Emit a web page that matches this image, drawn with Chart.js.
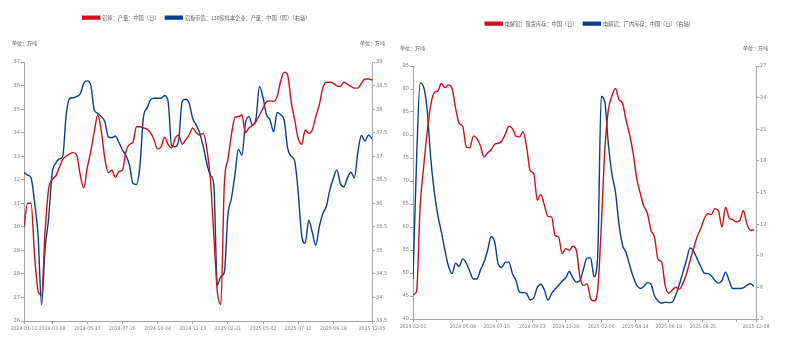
<!DOCTYPE html>
<html>
<head>
<meta charset="utf-8">
<script src="https://cdn.jsdelivr.net/npm/chart.js@4.4.1/dist/chart.umd.min.js"></script>
<style>
  html, body { margin: 0; padding: 0; background: #fff; }
  #wrap { position: relative; width: 786px; height: 345px; }
  .box { position: absolute; top: 0; width: 393px; height: 345px; }
</style>
</head>
<body>
<div id="wrap">
  <div class="box" style="left:0"><canvas id="left-chart"></canvas></div>
  <div class="box" style="left:393px"><canvas id="right-chart"></canvas></div>
</div>
<script>
// ---- left chart: 铝棒 / 铝板带箔 (weekly readings from 2024-01-12) ----
const leftStart = '2024-01-12';
const leftEnd = '2025-12-05';
const leftTicks = ['2024-01-12', '2024-03-08', '2024-05-17', '2024-07-26', '2024-10-04', '2024-12-13',
  '2025-02-21', '2025-05-02', '2025-07-11', '2025-09-19', '2025-12-05'];
const rodOutput = [30.0, 31.0, 31.0, 28.8, 27.3, 27.1, 29.8, 31.6, 32.0, 32.15,
  32.5, 32.85, 33.0, 33.1, 33.15, 33.05, 32.2, 31.65, 32.5, 33.2,
  34.05, 34.75, 34.05, 32.9, 32.3, 32.4, 32.1, 32.35, 32.4, 33.2,
  33.5, 33.6, 34.25, 34.25, 34.2, 34.15, 34.0, 33.7, 33.3, 33.4,
  33.8, 33.5, 33.35, 33.75, 33.9, 33.5, 33.7, 33.9, 34.2, 34.0,
  33.9, 33.97, 33.33, 32.06, 29.65, 27.24, 26.7, 31.85, 32.85, 33.9,
  34.64, 34.68, 34.75, 34.0, 34.2, 34.3, 34.47, 34.75, 35.03, 35.32,
  35.35, 35.32, 35.53, 36.17, 36.57, 36.45, 35.32, 34.54, 33.76, 33.5,
  34.11, 33.97, 34.11, 34.68, 35.18, 35.89, 36.14, 36.14, 36.1, 35.99,
  35.96, 36.14, 36.06, 35.96, 35.89, 35.89, 36.1, 36.28, 36.28, 36.24];
const sheetOutput = [36.66, 36.6, 36.54, 36.03, 35.32, 33.85, 35.04, 35.68, 36.63, 36.85,
  36.94, 36.99, 37.88, 38.23, 38.24, 38.27, 38.32, 38.55, 38.6, 38.51,
  37.98, 37.91, 37.84, 37.73, 37.41, 37.39, 37.43, 37.29, 37.13, 37.02,
  36.81, 36.42, 36.4, 36.81, 37.84, 38.02, 38.2, 38.23, 38.23, 38.23,
  38.29, 38.16, 37.22, 37.2, 37.34, 38.16, 38.21, 38.12, 37.8, 37.66,
  37.49, 37.2, 36.85, 36.6, 36.39, 34.26, 34.44, 34.54, 35.75, 36.1,
  36.6, 37.15, 37.02, 37.7, 37.84, 37.66, 37.8, 38.48, 38.24, 37.88,
  37.77, 37.52, 37.93, 37.88, 37.77, 37.17, 37.0, 36.9, 36.24, 35.32,
  35.15, 35.64, 35.39, 35.11, 35.5, 35.78, 35.93, 36.28, 36.53, 36.71,
  36.42, 36.35, 36.54, 36.66, 36.54, 37.1, 37.44, 37.32, 37.45, 37.37];

// ---- right chart: 电解铝 库存 (weekly readings from 2024-02-01) ----
const rightStart = '2024-02-01';
const rightEnd = '2025-12-08';
const rightTicks = ['2024-02-01', '2024-05-09', '2024-07-15', '2024-09-23', '2024-11-28', '2025-02-06',
  '2025-04-14', '2025-06-19', '2025-08-25', '2025-10-31', '2025-12-08'];
const rightTickLabels = ['2024-02-01', '2024-05-09', '2024-07-15', '2024-09-23', '2024-11-28', '2025-02-06',
  '2025-04-14', '2025-06-19', '2025-08-25', '', '2025-12-08'];
const spotStock = [45.3, 46.0, 64.3, 73.1, 80.7, 86.5, 89.2, 89.6, 91.2, 90.3,
  90.9, 90.1, 85.8, 82.5, 81.9, 77.4, 77.2, 79.8, 79.2, 77.6,
  75.2, 76.1, 76.8, 78.0, 78.2, 78.7, 80.2, 81.9, 81.4, 79.75,
  79.6, 80.7, 77.4, 72.2, 71.6, 65.8, 67.1, 64.7, 62.3, 62.2,
  58.2, 57.8, 54.2, 55.3, 54.9, 55.8, 54.9, 49.1, 47.3, 47.6,
  44.5, 43.9, 46.2, 60.0, 76.7, 85.4, 88.5, 90.1, 87.7, 86.9,
  83.2, 80.0, 76.0, 70.5, 67.3, 64.5, 63.0, 59.3, 57.8, 52.9,
  52.4, 47.3, 45.6, 46.3, 46.9, 46.5, 47.8, 49.8, 52.7, 55.3,
  57.9, 59.6, 61.8, 62.9, 62.7, 64.0, 63.5, 60.0, 64.3, 62.0,
  61.6, 61.1, 61.4, 63.6, 60.7, 59.3, 59.4];
const plantStock = [6.8, 18.0, 25.4, 25.0, 22.8, 18.2, 15.05, 12.8, 11.25, 9.5,
  8.0, 7.3, 8.3, 8.0, 8.7, 8.3, 7.5, 6.8, 6.8, 7.66,
  8.4, 9.5, 10.8, 10.3, 8.2, 7.9, 8.4, 8.4, 7.3, 6.65,
  5.55, 5.5, 5.4, 4.8, 5.0, 6.0, 6.3, 5.75, 4.8, 5.4,
  5.85, 6.2, 6.6, 6.9, 7.5, 6.9, 6.5, 6.65, 7.75, 8.8,
  8.8, 7.0, 9.0, 24.1, 23.6, 19.6, 16.8, 15.05, 12.0, 10.0,
  9.3, 8.1, 7.0, 6.2, 5.9, 6.1, 6.45, 6.3, 5.2, 4.7,
  4.5, 4.6, 4.55, 4.6, 5.3, 6.3, 7.45, 8.6, 9.75, 9.45,
  8.7, 8.0, 7.35, 7.3, 7.1, 6.65, 6.4, 6.65, 7.45, 6.65,
  5.9, 5.9, 5.9, 5.95, 6.2, 6.35, 6.1];

const RED = '#CC121B';
const BLUE = '#0B3D91';
const AXIS = '#A6A6A6';
const TICK_TEXT = '#7F7F7F';
const NUM_FONT = "'Liberation Sans Narrow', 'DejaVu Sans Condensed', 'Noto Sans CJK SC', sans-serif";
const CJK_FONT = "'Noto Sans CJK SC', sans-serif";

const DAY = 86400000;
function dayOf(str, start) {
  return (Date.parse(str) - Date.parse(start)) / DAY;
}
function weekly(values) {
  return values.map((v, i) => ({ x: i * 7, y: v }));
}

// unit captions above both y axes
const unitPlugin = {
  id: 'units',
  afterDraw(chart, args, opts) {
    const ctx = chart.ctx;
    ctx.save();
    ctx.font = '5px ' + CJK_FONT;
    ctx.fillStyle = '#595959';
    ctx.textBaseline = 'middle';
    ctx.textAlign = 'left';
    ctx.fillText('单位：万吨', opts.leftX, chart.chartArea.top - opts.dy);
    ctx.textAlign = 'right';
    ctx.fillText('单位：万吨', opts.rightX, chart.chartArea.top - opts.dy);
    ctx.restore();
  }
};

// fixed legend block height so the plot area lands where the reference has it
const legendHeightPlugin = {
  id: 'legendHeight',
  beforeInit(chart) {
    const h = chart.options.plugins.legendHeight.height;
    const origFit = chart.legend.fit;
    chart.legend.fit = function () {
      origFit.bind(chart.legend)();
      this.height = h;
    };
  }
};

const tickFont = { family: NUM_FONT, size: 5.6 };
const dateFont = { family: NUM_FONT, size: 5.1 };

function axisStyle(extra) {
  return Object.assign({
    border: { display: true, color: AXIS, width: 1 },
    grid: { display: true, drawOnChartArea: false, drawTicks: true, tickLength: 3, color: AXIS }
  }, extra);
}

function makeChart(id, cfg) {
  const ctx = document.getElementById(id).getContext('2d');
  return new Chart(ctx, {
    type: 'line',
    data: {
      datasets: [{
        label: cfg.labels[0],
        data: weekly(cfg.red),
        yAxisID: 'y',
        borderColor: RED,
        backgroundColor: RED,
        borderWidth: 1.4,
        pointRadius: 0,
        cubicInterpolationMode: 'monotone'
      }, {
        label: cfg.labels[1],
        data: weekly(cfg.blue),
        yAxisID: 'y1',
        borderColor: BLUE,
        backgroundColor: BLUE,
        borderWidth: 1.4,
        pointRadius: 0,
        cubicInterpolationMode: 'monotone'
      }]
    },
    options: {
      responsive: false,
      animation: false,
      layout: { padding: { top: cfg.padTop, left: 0, right: 0, bottom: 0 } },
      plugins: {
        legend: {
          display: true,
          position: 'top',
          labels: {
            boxWidth: 17,
            boxHeight: 3,
            padding: 6,
            color: '#595959',
            font: { family: CJK_FONT, size: 5.2 }
          }
        },
        tooltip: { enabled: false },
        legendHeight: { height: cfg.legendH },
        units: cfg.units
      },
      scales: {
        x: axisStyle({
          type: 'linear',
          min: 0,
          max: dayOf(cfg.end, cfg.start),
          afterBuildTicks(scale) {
            scale.ticks = cfg.ticks.map(d => ({ value: dayOf(d, cfg.start) }));
          },
          afterFit(scale) { scale.height = cfg.bottomH; },
          ticks: {
            color: TICK_TEXT, font: dateFont, padding: 2,
            autoSkip: false, maxRotation: 0, minRotation: 0,
            callback: (value, index) => cfg.tickLabels[index]
          }
        }),
        y: axisStyle({
          position: 'left',
          min: cfg.yRange[0], max: cfg.yRange[1],
          afterFit(scale) { scale.width = cfg.leftW; },
          ticks: {
            color: TICK_TEXT, font: tickFont, padding: 1, stepSize: cfg.yRange[2],
            callback: v => String(Number(v.toFixed(2)))
          }
        }),
        y1: axisStyle({
          position: 'right',
          min: cfg.y1Range[0], max: cfg.y1Range[1],
          afterFit(scale) { scale.width = cfg.rightW; },
          ticks: {
            color: TICK_TEXT, font: tickFont, padding: 1, stepSize: cfg.y1Range[2],
            callback: v => String(Number(v.toFixed(2)))
          }
        })
      }
    },
    plugins: [legendHeightPlugin, unitPlugin]
  });
}

document.getElementById('left-chart').width = 393;
document.getElementById('left-chart').height = 345;
document.getElementById('right-chart').width = 393;
document.getElementById('right-chart').height = 345;

makeChart('left-chart', {
  labels: ['铝棒：产量：中国（日）', '铝板带箔：130家样本企业：产量：中国（周）（右轴）'],
  red: rodOutput,
  blue: sheetOutput,
  start: leftStart,
  end: leftEnd,
  ticks: leftTicks,
  tickLabels: leftTicks,
  yRange: [26, 37, 1],
  y1Range: [33.5, 39, 0.5],
  padTop: 9,
  legendH: 53,
  leftW: 24,
  rightW: 21,
  bottomH: 24,
  units: { leftX: 12, rightX: 385, dy: 19 }
});

makeChart('right-chart', {
  labels: ['电解铝：现货库存：中国（日）', '电解铝：厂内库存：中国（日）（右轴）'],
  red: spotStock,
  blue: plantStock,
  start: rightStart,
  end: rightEnd,
  ticks: rightTicks,
  tickLabels: rightTickLabels,
  yRange: [40, 95, 5],
  y1Range: [3, 27, 3],
  padTop: 15,
  legendH: 51,
  leftW: 20,
  rightW: 30,
  bottomH: 26,
  units: { leftX: 7, rightX: 375, dy: 18 }
});
</script>
</body>
</html>
